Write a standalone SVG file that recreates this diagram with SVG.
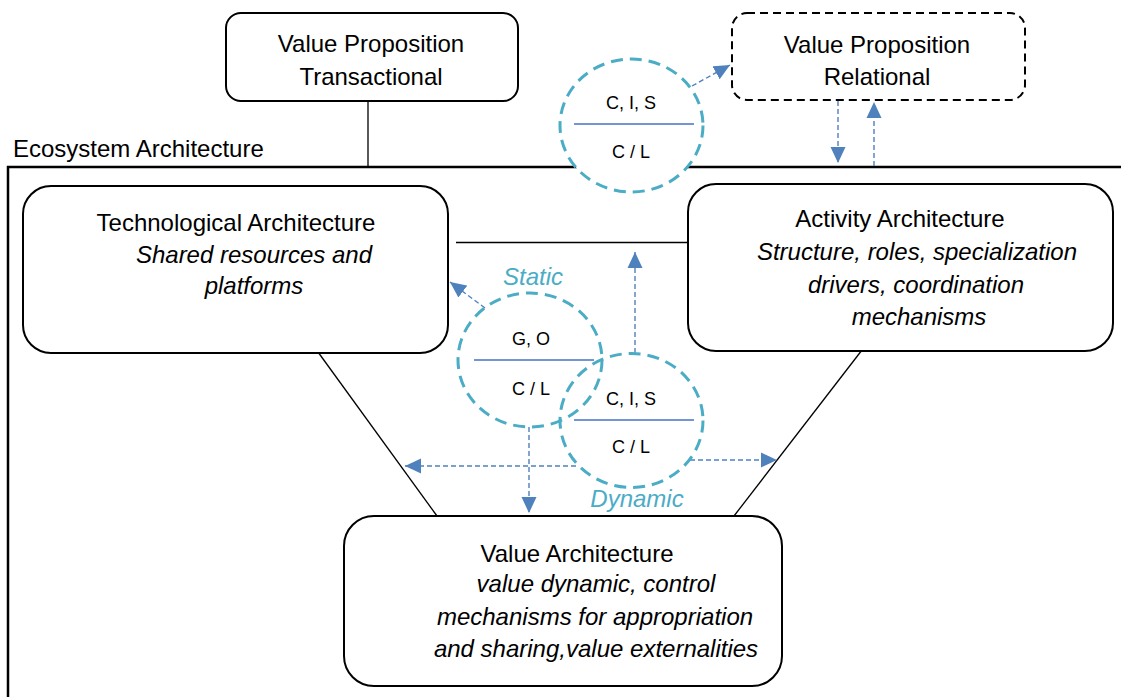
<svg xmlns="http://www.w3.org/2000/svg" width="1121" height="697" viewBox="0 0 1121 697">
<style>
.box{fill:#fff;stroke:#000;stroke-width:2}
.dbox{fill:#fff;stroke:#000;stroke-width:2;stroke-dasharray:8 5}
.t{font-family:"Liberation Sans",Arial,sans-serif;font-size:24px;fill:#000;text-anchor:middle}
.i{font-style:italic}
.s{font-family:"Liberation Sans",Arial,sans-serif;font-size:18px;fill:#000;text-anchor:middle}
.lab{font-family:"Liberation Sans",Arial,sans-serif;font-size:24px;font-style:italic;fill:#4BACC6;text-anchor:middle}
.circ{stroke:#4BACC6;stroke-width:3;stroke-dasharray:12 7}
.div{stroke:#4472C4;stroke-width:1.3}
.solid{stroke:#000;stroke-width:1.3;fill:none}
.arr{stroke:#4F81BD;stroke-width:1.4;stroke-dasharray:5 3;fill:none;marker-end:url(#ah)}
</style>
<defs>
<marker id="ah" markerUnits="userSpaceOnUse" markerWidth="17" markerHeight="16" refX="16" refY="8" orient="auto">
<path d="M0,0.5 L16,8 L0,15.5 z" fill="#4F81BD"/>
</marker>
</defs>
<rect width="1121" height="697" fill="#fff"/>

<g id="frame">
<text x="13" y="157" class="t" style="text-anchor:start">Ecosystem Architecture</text>
<path d="M8,697 L8,167 L1121,167" fill="none" stroke="#000" stroke-width="2.5"/>
</g>

<g id="connectors">
<line class="solid" x1="368" y1="101" x2="368" y2="167"/>
<line class="solid" x1="456" y1="242.5" x2="688" y2="242.5"/>
<line class="solid" x1="318" y1="352" x2="437" y2="516"/>
<line class="solid" x1="862" y1="350" x2="734" y2="516"/>
<line class="arr" x1="692" y1="86" x2="730" y2="65"/>
<line class="arr" x1="838" y1="101" x2="838" y2="163"/>
<line class="arr" x1="874" y1="166" x2="874" y2="102"/>
<line class="arr" x1="485" y1="308" x2="450" y2="282"/>
<line class="arr" x1="635" y1="353" x2="635" y2="252"/>
<line class="arr" x1="529" y1="427" x2="529" y2="513"/>
<line class="arr" x1="576" y1="466" x2="405" y2="466"/>
<line class="arr" x1="690" y1="460" x2="777" y2="460"/>
</g>

<g id="vp-transactional">
<rect class="box" x="226" y="13" width="292" height="88" rx="15"/>
<text x="371" y="52" class="t">Value Proposition</text>
<text x="371" y="85" class="t">Transactional</text>
</g>

<g id="vp-relational">
<rect class="dbox" x="732" y="13" width="293" height="87" rx="15"/>
<text x="877" y="53" class="t">Value Proposition</text>
<text x="877" y="85" class="t">Relational</text>
</g>

<g id="circle-top">
<ellipse class="circ" cx="631.5" cy="125.5" rx="71.5" ry="66.5" fill="#fff"/>
<line class="div" x1="574" y1="124" x2="694" y2="124"/>
<text x="631" y="109" class="s">C, I, S</text>
<text x="631" y="158" class="s">C / L</text>
</g>

<g id="tech-arch">
<rect class="box" x="23" y="186" width="425" height="167" rx="28"/>
<text x="236" y="231" class="t">Technological Architecture</text>
<text x="254" y="263" class="t i">Shared resources and</text>
<text x="254" y="294" class="t i">platforms</text>
</g>

<g id="activity-arch">
<rect class="box" x="688" y="184" width="425" height="167" rx="28"/>
<text x="900" y="227" class="t">Activity Architecture</text>
<text x="917" y="260" class="t i">Structure, roles, specialization</text>
<text x="916" y="293" class="t i">drivers, coordination</text>
<text x="919" y="325" class="t i">mechanisms</text>
</g>

<g id="value-arch">
<rect class="box" x="344" y="516" width="438" height="170" rx="30"/>
<text x="577" y="562" class="t">Value Architecture</text>
<text x="596" y="592" class="t i">value dynamic, control</text>
<text x="595" y="625" class="t i">mechanisms for appropriation</text>
<text x="596" y="657" class="t i">and sharing,value externalities</text>
</g>

<g id="circle-static">
<ellipse class="circ" cx="530" cy="360" rx="72" ry="67" fill="none"/>
<line class="div" x1="474" y1="360" x2="594" y2="360"/>
<text x="531" y="345" class="s">G, O</text>
<text x="531" y="395" class="s">C / L</text>
<text x="533" y="285" class="lab">Static</text>
</g>

<g id="circle-dynamic">
<ellipse class="circ" cx="631.5" cy="420.5" rx="71.5" ry="67" fill="none"/>
<line class="div" x1="574" y1="420" x2="694" y2="420"/>
<text x="631" y="405" class="s">C, I, S</text>
<text x="631" y="453" class="s">C / L</text>
<text x="637" y="507" class="lab">Dynamic</text>
</g>
</svg>
